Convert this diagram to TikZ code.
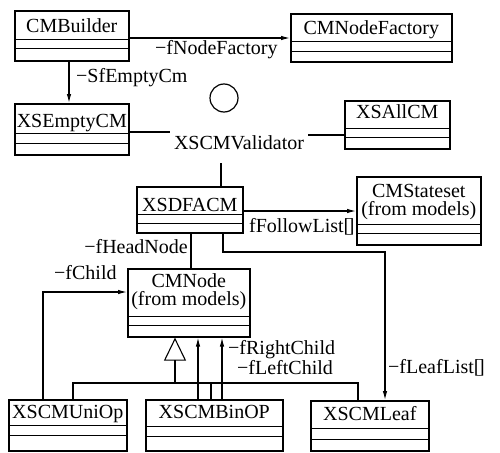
\documentclass[tikz,border=0pt]{standalone}
\usepackage{fontspec}
\setmainfont{Liberation Serif}
\usetikzlibrary{arrows.meta}
\tikzset{
  % UML class box: name compartment plus two empty compartments
  cls/.style 2 args={draw, line width=1.6pt, anchor=north west,
    inner xsep=1pt, inner ysep=0pt, align=center,
    path picture={\draw[line width=1.3pt]
      ([yshift=#1]path picture bounding box.south west) --
      ([yshift=#1]path picture bounding box.south east)
      ([yshift=#2]path picture bounding box.south west) --
      ([yshift=#2]path picture bounding box.south east);}},
  conn/.style={line width=1.1pt},
  nav/.style={conn, -{Latex[length=9pt,width=4.5pt]}},
  lbl/.style={inner sep=0pt, anchor=west},
  lblr/.style={inner sep=0pt, anchor=east},
}
\begin{document}
\begin{tikzpicture}[x=1pt, y=-1pt, font=\fontsize{20}{18.5}\selectfont]
\useasboundingbox (0,0) rectangle (500,452);

% classes
\node[cls={21pt}{12pt}, minimum width=114pt, text height=22pt, text depth=28pt] (cmb) at (14,10) {CMBuilder};
\node[cls={20pt}{10pt}, minimum width=161pt, text height=21pt, text depth=27pt] (cmnf) at (290,13) {CMNodeFactory};
\node[cls={21pt}{11pt}, minimum width=114pt, text height=24pt, text depth=27pt] (xse) at (14,103) {XSEmptyCM};
\node[cls={20pt}{11pt}, minimum width=105pt, text height=18pt, text depth=30pt] (xsall) at (344,100) {XSAllCM};
\node[cls={18pt}{9pt}, minimum width=106pt, text height=25pt, text depth=21pt] (dfa) at (136,186) {XSDFACM};
% two-line names: height/depth measured from the last line's baseline
\node[cls={20pt}{11pt}, minimum width=124pt, text height=39pt, text depth=29pt] (cmss) at (356,176) {CMStateset\\(from models)};
\node[cls={20pt}{11pt}, minimum width=122pt, text height=37pt, text depth=31pt] (cmn) at (127,268) {CMNode\\(from models)};
\node[cls={25pt}{15pt}, minimum width=118pt, text height=19pt, text depth=32pt] (uni) at (8,399) {XSCMUniOp};
\node[cls={24pt}{14pt}, minimum width=137pt, text height=19pt, text depth=32pt] (bin) at (145,399) {XSCMBinOP};
\node[cls={22pt}{11pt}, minimum width=118pt, text height=20pt, text depth=30pt] (leaf) at (310,400) {XSCMLeaf};

% interface and its implementing class
\node[draw, circle, line width=1.2pt, minimum size=28pt, inner sep=0pt] (iface) at (224,98) {};
\node[inner xsep=4pt, inner ysep=13pt] (val) at (239,143) {XSCMValidator};

% associations
\draw[nav] (cmb.east |- 0,38) -- (cmnf.west |- 0,38);
\node[lbl] (l-nf) at (155,50) {−fNodeFactory};

\draw[nav] (69,0 |- cmb.south) -- (69,0 |- xse.north);
\node[lbl] (l-ec) at (76,78) {−SfEmptyCm};

\draw[conn] (xse.east |- 0,132) -- (val.west |- 0,132);
\draw[conn] (val.east |- 0,135) -- (xsall.west |- 0,135);
\draw[conn] (221,0 |- val.south) -- (221,0 |- dfa.north);

\draw[nav] (dfa.east |- 0,211) -- (cmss.west |- 0,211);
\node[lbl] (l-fl) at (249,227) {fFollowList[\kern-2.5pt]};

\draw[conn] (191,0 |- dfa.south) -- (191,0 |- cmn.north);
\node[lblr] (l-hn) at (188,247) {−fHeadNode};

\draw[nav] (223,0 |- dfa.south) -- (223,252) -- (385,252) -- (385,0 |- leaf.north);
\node[lbl] (l-ll) at (388,368) {−fLeafList[\kern-2.5pt]};

\draw[nav] (43,0 |- uni.north) -- (43,292) -- (cmn.west |- 0,292);
\node[lbl] (l-ch) at (54,273) {−fChild};

\draw[nav] (198,0 |- bin.north) -- (198,0 |- cmn.south);
\draw[nav] (222,0 |- bin.north) -- (222,0 |- cmn.south);
\node[lbl] (l-rc) at (228,350) {−fRightChild};
\node[lbl] (l-lc) at (237,368) {−fLeftChild};

% generalization tree
\coordinate (gbus) at (175,383);
\draw[conn] (73,0 |- uni.north) -- (73,383) -- (358,383) -- (358,0 |- leaf.north);
\draw[conn] (211,383) -- (211,0 |- bin.north);
\draw[conn, -{Triangle[open, length=23pt, width=22pt]}] (gbus) -- (gbus |- cmn.south);
\end{tikzpicture}
\end{document}
